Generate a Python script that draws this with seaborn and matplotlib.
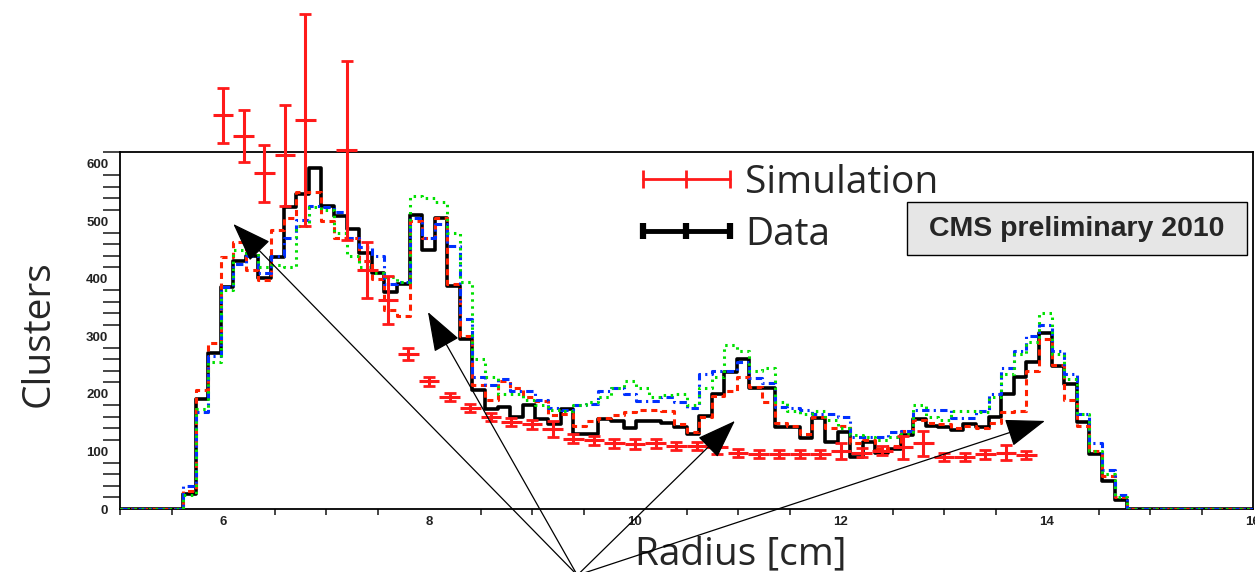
import numpy as np
import pandas as pd
import matplotlib
matplotlib.use("Agg")
import matplotlib.pyplot as plt
from matplotlib.lines import Line2D
from matplotlib.patches import Rectangle
from matplotlib.ticker import MultipleLocator
import seaborn as sns

# Histogram binning: 90 bins over 5-16 cm, first populated bin has index 5
R_MIN, R_MAX, N_BINS = 5.0, 16.0, 90
FIRST_FILLED_BIN = 5

# Reconstructed clusters per radial bin (populated bins only)
data_counts = [26, 191, 271, 385, 430, 440, 402, 437, 524, 547,
               592, 527, 508, 486, 445, 410, 377, 390, 511, 450,
               505, 387, 296, 207, 174, 177, 159, 180, 156, 147,
               174, 131, 131, 156, 152, 140, 153, 153, 150, 142,
               131, 162, 200, 238, 261, 211, 211, 143, 142, 124,
               158, 116, 133, 90, 117, 98, 105, 129, 156, 145,
               143, 137, 148, 143, 159, 199, 230, 255, 305, 249,
               217, 151, 95, 49, 15]

mc_red = [31, 206, 288, 438, 464, 415, 398, 485, 505, 550,
          550, 500, 470, 470, 430, 400, 345, 335, 500, 470,
          505, 390, 300, 215, 190, 222, 210, 195, 188, 163,
          165, 145, 152, 158, 163, 168, 172, 172, 170, 148,
          133, 160, 197, 205, 230, 212, 185, 150, 145, 130,
          160, 140, 145, 115, 120, 105, 110, 135, 155, 150,
          148, 140, 145, 140, 150, 168, 170, 240, 295, 250,
          190, 145, 100, 58, 20]

mc_blue = [40, 168, 265, 385, 425, 440, 410, 440, 471, 502,
           526, 525, 515, 470, 455, 440, 390, 395, 505, 470,
           495, 456, 330, 230, 215, 225, 205, 205, 190, 175,
           172, 180, 183, 205, 210, 200, 188, 188, 195, 185,
           175, 235, 240, 240, 255, 228, 218, 178, 175, 172,
           165, 165, 160, 125, 125, 125, 133, 135, 172, 172,
           172, 158, 158, 170, 200, 245, 275, 300, 320, 275,
           235, 165, 115, 68, 25]

mc_green = [25, 174, 255, 380, 450, 445, 420, 424, 420, 491,
            525, 520, 480, 440, 421, 410, 403, 395, 543, 540,
            534, 480, 395, 260, 230, 200, 200, 190, 180, 172,
            170, 180, 185, 195, 210, 222, 210, 195, 198, 200,
            180, 210, 230, 285, 275, 240, 245, 185, 170, 165,
            170, 155, 140, 128, 125, 120, 125, 130, 180, 160,
            155, 170, 170, 168, 195, 235, 270, 290, 340, 270,
            225, 165, 100, 60, 20]

# Simulation points (0.2 cm bins) with statistical errors
sim_radius = [6.0, 6.2, 6.4, 6.6, 6.8, 7.0, 7.2, 7.4, 7.6, 7.8,
              8.0, 8.2, 8.4, 8.6, 8.8, 9.0, 9.2, 9.4, 9.6, 9.8,
              10.0, 10.2, 10.4, 10.6, 10.8, 11.0, 11.2, 11.4, 11.6, 11.8,
              12.0, 12.2, 12.4, 12.6, 12.8, 13.0, 13.2, 13.4, 13.6, 13.8]
sim_counts = [684, 648, 583, 614, 675, np.nan, 623, 415, 363, 269,
              222, 195, 176, 160, 151, 147, 139, 122, 119, 114,
              113, 114, 110, 110, 107, 98, 95, 95, 95, 95,
              101, 98, 101, 107, 114, 90, 90, 95, 98, 94]
sim_errors = [48, 45, 49, 88, 184, np.nan, 155, 48, 41, 10,
              8, 7, 7, 7, 7, 8, 14, 8, 7, 8,
              8, 8, 7, 7, 12, 7, 7, 7, 7, 7,
              14, 8, 8, 20, 22, 7, 7, 8, 13, 7]
sim_half_width = 0.1

# Structures the pointers indicate (radius, clusters) and their common origin
pointer_targets = [(6.10, 495), (7.99, 342), (10.97, 153), (13.98, 153)]
pointer_origin = (9.44, -115)

x_ticks = [6, 8, 10, 12, 14, 16]
y_ticks = [0, 100, 200, 300, 400, 500, 600]
legend_labels = ["Simulation", "Data"]
stamp_text = "CMS preliminary 2010"

sns.set_style("white")
plt.rcParams["font.family"] = ["Open Sans", "DejaVu Sans"]

W, H = 1255, 572
fig = plt.figure(figsize=(W / 100, H / 100), dpi=100)
ax = fig.add_axes([120 / W, 63 / H, 1133 / W, 357 / H])

edges = np.linspace(R_MIN, R_MAX, N_BINS + 1)
centers = 0.5 * (edges[:-1] + edges[1:])


def full_bins(values):
    arr = np.zeros(N_BINS)
    arr[FIRST_FILLED_BIN:FIRST_FILLED_BIN + len(values)] = values
    return arr


hist_df = pd.DataFrame({
    "radius": centers,
    "data": full_bins(data_counts),
    "red": full_bins(mc_red),
    "blue": full_bins(mc_blue),
    "green": full_bins(mc_green),
})
bin_kws = dict(binwidth=(R_MAX - R_MIN) / N_BINS, binrange=(R_MIN, R_MAX),
               element="step", fill=False)

# Data: solid black outline
sns.histplot(data=hist_df, x="radius", weights="data", color="black",
             linewidth=2.6, ax=ax, zorder=2, **bin_kws)
# Simulation variants drawn as styled outlines
styles = [
    ("red", "#ff2000", (0, (2.0, 1.5))),
    ("blue", "#0030ff", (0, (2.4, 1.4, 0.7, 1.4))),
    ("green", "#00e000", (0, (0.8, 1.5))),
]
for col_name, col, ls in styles:
    sns.histplot(data=hist_df, x="radius", weights=col_name, color=col,
                 linewidth=2.2, linestyle=ls, ax=ax, zorder=3, **bin_kws)

# Simulation points: horizontal bin bars and vertical error bars with caps
ebx = ax.errorbar(sim_radius, sim_counts, xerr=sim_half_width, fmt="none",
                  ecolor="#ff1a1a", elinewidth=2.2, capsize=0, zorder=4)
eby = ax.errorbar(sim_radius, sim_counts, yerr=sim_errors, fmt="none",
                  ecolor="#ff1a1a", elinewidth=2.2, capsize=4.5, capthick=2.0,
                  zorder=4)
for cont in (ebx, eby):
    for art in cont.get_children():
        art.set_clip_on(False)

ax.set_xlim(R_MIN, R_MAX)
ax.set_ylim(0, 620)
ax.set_xticks(x_ticks)
ax.set_yticks(y_ticks)
ax.xaxis.set_minor_locator(MultipleLocator(0.5))
ax.yaxis.set_minor_locator(MultipleLocator(20))
ax.tick_params(direction="in", top=False, right=False, colors="black")
ax.tick_params(axis="y", which="major", length=24, width=1.2, pad=8.5,
               labelsize=9.5)
ax.tick_params(axis="y", which="minor", length=12, width=1.2, left=True)
ax.tick_params(axis="x", which="major", length=9, width=1.2, pad=5,
               labelsize=9.5)
ax.tick_params(axis="x", which="minor", length=4, width=1.2, bottom=True)
for lab in ax.get_xticklabels() + ax.get_yticklabels():
    lab.set_fontfamily(["Liberation Sans", "DejaVu Sans"])
    lab.set_fontweight("bold")
    lab.set_color("#222222")
for sp in ax.spines.values():
    sp.set_linewidth(1.3)
    sp.set_color("black")

ax.set_xlabel("Radius [cm]", fontsize=28)
ax.set_ylabel("Clusters", fontsize=28)
ax.xaxis.set_label_coords((741 - 120) / 1133, (509 - 535) / 357)
ax.yaxis.set_label_coords((58 - 120) / 1133, 0.49)

# Legend with error-bar style handles
sim_handle = Line2D([], [], color="#ff1a1a", lw=2.0, marker="|",
                    markersize=13, markeredgewidth=2.0)
data_handle = Line2D([], [], color="black", lw=3.5, marker="|",
                     markersize=11, markeredgewidth=4.5)
ax.legend([sim_handle, data_handle], legend_labels, loc="upper left",
          bbox_to_anchor=(631 / W, 1 - 164 / H), bbox_transform=fig.transFigure,
          frameon=False, fontsize=28, numpoints=3, handlelength=2.84,
          handletextpad=0.1, labelspacing=0.35, borderpad=0, borderaxespad=0)

# Preliminary stamp
fig.patches.append(Rectangle((907 / W, 1 - 255 / H), 340 / W, 53 / H,
                             transform=fig.transFigure, facecolor="#e6e6e6",
                             edgecolor="black", linewidth=1.0, zorder=5))
fig.text(1077 / W, 1 - 229 / H, stamp_text, ha="center", va="center",
         fontsize=20.5, fontweight="bold",
         family=["Liberation Sans", "DejaVu Sans"], zorder=6)

# Pointers to the detector layers
for target in pointer_targets:
    ax.annotate("", xy=target, xytext=pointer_origin,
                arrowprops=dict(arrowstyle="-|>,head_length=1.4,head_width=0.5",
                                mutation_scale=18, lw=0.9, color="black",
                                shrinkA=0, shrinkB=0),
                annotation_clip=False, zorder=6)

fig.savefig("out.png", dpi=100, facecolor="white")
